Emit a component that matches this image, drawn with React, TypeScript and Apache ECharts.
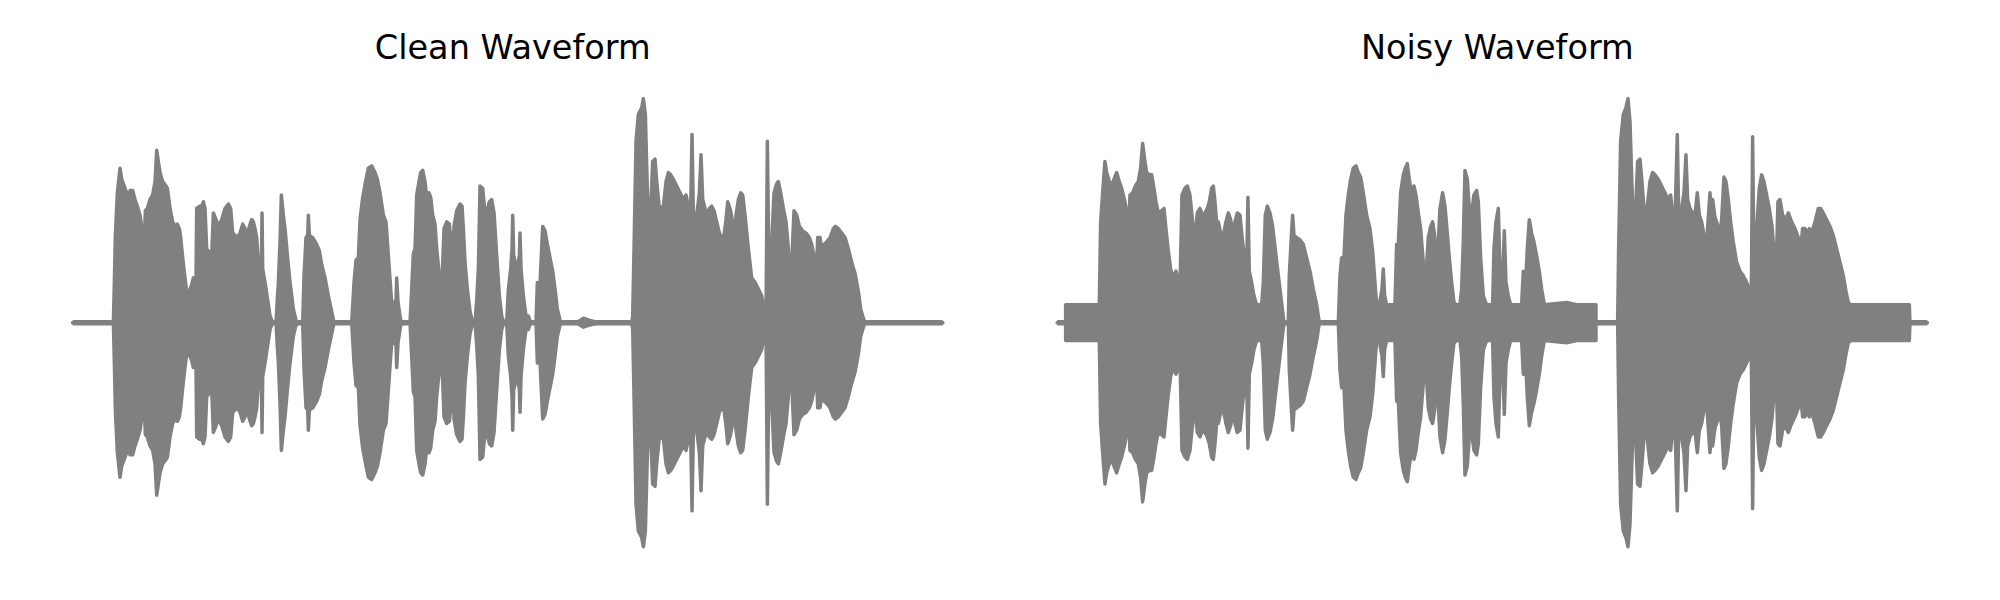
import React, { useEffect, useRef } from "react";
import * as echarts from "echarts";

// Time axis in milliseconds (clip length 2610 ms), amplitude normalised to the peak (±1).
const titles = ["Clean Waveform", "Noisy Waveform"];

const cleanTimeMs = [
  0, 122, 125, 128, 134, 142, 147, 157, 162, 167, 172, 180, 187, 194, 202, 210, 214, 218, 224, 232,
  240, 247, 252, 257, 262, 270, 280, 284, 292, 300, 307, 314, 320, 324, 330, 336, 342, 350, 357, 362,
  366, 369, 372, 380, 387, 392, 397, 402, 417, 422, 430, 437, 447, 457, 467, 474, 480, 487, 494, 502,
  510, 517, 524, 530, 537, 542, 547, 552, 557, 562, 566, 568, 570, 577, 584, 592, 600, 610, 614, 617,
  622, 626, 627, 632, 637, 644, 652, 662, 670, 677, 690, 694, 700, 705, 707, 710, 720, 732, 740, 747,
  757, 767, 777, 784, 837, 844, 850, 857, 862, 870, 880, 887, 897, 907, 914, 922, 932, 940, 947, 954,
  960, 964, 970, 972, 976, 984, 992, 1012, 1017, 1022, 1027, 1032, 1040, 1044, 1050, 1057, 1062, 1069, 1074, 1080,
  1087, 1092, 1100, 1107, 1114, 1122, 1130, 1134, 1138, 1144, 1152, 1162, 1168, 1172, 1177, 1184, 1192, 1200, 1207, 1212,
  1217, 1222, 1230, 1237, 1242, 1250, 1257, 1264, 1272, 1280, 1287, 1294, 1302, 1307, 1314, 1318, 1320, 1323, 1332, 1337,
  1340, 1342, 1345, 1352, 1360, 1367, 1374, 1390, 1394, 1398, 1404, 1410, 1417, 1424, 1432, 1440, 1447, 1454, 1462, 1467,
  1512, 1532, 1552, 1577, 1677, 1680, 1684, 1690, 1697, 1707, 1712, 1718, 1722, 1727, 1734, 1740, 1747, 1752, 1760, 1772,
  1780, 1787, 1794, 1802, 1812, 1822, 1832, 1840, 1847, 1854, 1858, 1862, 1872, 1880, 1885, 1890, 1897, 1904, 1910, 1917,
  1924, 1932, 1940, 1947, 1954, 1960, 1965, 1972, 1980, 1984, 1990, 1997, 2004, 2010, 2017, 2027, 2037, 2047, 2057, 2067,
  2074, 2080, 2084, 2088, 2097, 2104, 2112, 2117, 2124, 2132, 2140, 2147, 2152, 2158, 2164, 2172, 2180, 2190, 2200, 2210,
  2217, 2225, 2232, 2235, 2242, 2247, 2254, 2262, 2272, 2282, 2288, 2297, 2307, 2317, 2327, 2337, 2347, 2352, 2357, 2364,
  2370, 2377, 2610,
];
const cleanAmplitude = [
  0, 0, 0.18, 0.39, 0.58, 0.69, 0.64, 0.6, 0.58, 0.55, 0.59, 0.59, 0.55, 0.52, 0.48, 0.4, 0.33, 0.5, 0.51, 0.55,
  0.57, 0.63, 0.77, 0.72, 0.67, 0.63, 0.61, 0.6, 0.51, 0.45, 0.43, 0.44, 0.42, 0.38, 0.29, 0.21, 0.14, 0.14, 0.17, 0.2,
  0.12, 0.05, 0.51, 0.52, 0.52, 0.54, 0.51, 0.33, 0.3, 0.49, 0.46, 0.43, 0.46, 0.51, 0.53, 0.51, 0.4, 0.39, 0.38, 0.4,
  0.44, 0.42, 0.39, 0.43, 0.46, 0.45, 0.42, 0.38, 0.27, 0.24, 0.24, 0.49, 0.24, 0.18, 0.11, 0.03, 0, 0, 0.11, 0.18,
  0.36, 0.57, 0.57, 0.48, 0.42, 0.3, 0.18, 0.06, 0.01, 0, 0, 0.21, 0.38, 0.39, 0.48, 0.39, 0.38, 0.35, 0.32, 0.26,
  0.2, 0.12, 0.05, 0, 0, 0.18, 0.28, 0.29, 0.46, 0.56, 0.64, 0.69, 0.7, 0.67, 0.64, 0.58, 0.48, 0.45, 0.3, 0.15,
  0.03, 0.09, 0.1, 0.2, 0.09, 0.01, 0, 0, 0.15, 0.31, 0.33, 0.57, 0.64, 0.67, 0.68, 0.63, 0.56, 0.58, 0.56, 0.48,
  0.44, 0.33, 0.21, 0.15, 0.42, 0.45, 0.44, 0.38, 0.15, 0.43, 0.5, 0.53, 0.52, 0.42, 0.27, 0.15, 0.05, 0, 0, 0.1,
  0.24, 0.61, 0.6, 0.49, 0.49, 0.54, 0.55, 0.49, 0.3, 0.12, 0.03, 0, 0, 0.15, 0.24, 0.33, 0.48, 0.3, 0.24, 0.27,
  0.3, 0.4, 0.24, 0.12, 0.03, 0.03, 0, 0, 0.18, 0.03, 0.24, 0.43, 0.41, 0.35, 0.29, 0.23, 0.15, 0.06, 0.01, 0,
  0, 0.02, 0.01, 0, 0, 0.03, 0.33, 0.81, 0.93, 0.96, 1.0, 0.93, 0.7, 0.43, 0.51, 0.72, 0.73, 0.63, 0.51, 0.52,
  0.63, 0.67, 0.66, 0.64, 0.61, 0.58, 0.55, 0.57, 0.52, 0.51, 0.84, 0.49, 0.48, 0.58, 0.75, 0.55, 0.51, 0.49, 0.51, 0.52,
  0.5, 0.45, 0.4, 0.38, 0.39, 0.46, 0.54, 0.51, 0.45, 0.3, 0.48, 0.55, 0.58, 0.57, 0.48, 0.33, 0.2, 0.18, 0.15, 0.12,
  0.06, 0.03, 0.81, 0.3, 0.36, 0.58, 0.62, 0.63, 0.58, 0.51, 0.45, 0.33, 0.15, 0.3, 0.5, 0.48, 0.43, 0.41, 0.4, 0.38,
  0.35, 0.29, 0.26, 0.38, 0.38, 0.33, 0.35, 0.36, 0.38, 0.42, 0.43, 0.42, 0.4, 0.38, 0.33, 0.27, 0.22, 0.18, 0.14, 0.06,
  0.03, 0, 0,
];

const noisyTimeMs = [
  0, 25, 25, 126, 130, 136, 143, 148, 156, 163, 170, 178, 186, 193, 203, 210, 214, 218, 226, 234,
  243, 250, 256, 262, 268, 276, 283, 290, 296, 303, 313, 320, 326, 333, 340, 348, 356, 362, 368, 374,
  383, 390, 398, 406, 413, 420, 428, 436, 443, 450, 456, 463, 468, 473, 478, 483, 490, 498, 506, 513,
  520, 526, 533, 540, 548, 556, 563, 568, 572, 576, 583, 590, 598, 613, 618, 624, 630, 638, 646, 656,
  668, 676, 680, 693, 696, 702, 706, 710, 718, 728, 738, 748, 758, 768, 778, 786, 843, 848, 853, 860,
  866, 873, 880, 888, 896, 903, 910, 918, 928, 938, 946, 953, 960, 966, 974, 978, 982, 988, 1013, 1018,
  1023, 1030, 1038, 1044, 1050, 1056, 1063, 1070, 1076, 1083, 1090, 1098, 1106, 1113, 1120, 1126, 1132, 1138, 1143, 1148,
  1156, 1163, 1170, 1176, 1183, 1190, 1198, 1208, 1213, 1218, 1223, 1230, 1236, 1243, 1250, 1258, 1263, 1270, 1278, 1288,
  1306, 1310, 1316, 1323, 1328, 1336, 1341, 1346, 1353, 1360, 1393, 1398, 1403, 1410, 1416, 1423, 1430, 1438, 1446, 1453,
  1461, 1528, 1558, 1616, 1616, 1681, 1684, 1690, 1698, 1706, 1712, 1718, 1723, 1728, 1735, 1741, 1748, 1754, 1760, 1770,
  1778, 1786, 1793, 1803, 1813, 1823, 1833, 1840, 1846, 1854, 1860, 1864, 1873, 1880, 1886, 1891, 1898, 1906, 1913, 1920,
  1926, 1933, 1940, 1948, 1958, 1963, 1966, 1973, 1980, 1986, 1993, 2000, 2006, 2013, 2020, 2028, 2038, 2048, 2058, 2068,
  2076, 2082, 2086, 2090, 2098, 2106, 2113, 2120, 2128, 2136, 2144, 2151, 2156, 2162, 2168, 2176, 2184, 2193, 2203, 2213,
  2223, 2230, 2236, 2243, 2250, 2256, 2263, 2273, 2283, 2290, 2298, 2308, 2318, 2328, 2338, 2348, 2358, 2366, 2373, 2380,
  2556, 2558, 2610,
];
const noisyAmplitude = [
  0, 0, 0.08, 0.08, 0.45, 0.58, 0.72, 0.67, 0.63, 0.61, 0.64, 0.67, 0.63, 0.6, 0.54, 0.48, 0.4, 0.57, 0.58, 0.61,
  0.63, 0.69, 0.8, 0.73, 0.67, 0.66, 0.66, 0.6, 0.54, 0.49, 0.5, 0.51, 0.42, 0.32, 0.24, 0.2, 0.23, 0.2, 0.15, 0.57,
  0.6, 0.61, 0.57, 0.45, 0.38, 0.49, 0.51, 0.48, 0.49, 0.51, 0.54, 0.6, 0.61, 0.54, 0.45, 0.45, 0.4, 0.39, 0.45, 0.49,
  0.46, 0.4, 0.45, 0.49, 0.48, 0.36, 0.27, 0.24, 0.56, 0.23, 0.18, 0.12, 0.08, 0.08, 0.18, 0.48, 0.52, 0.49, 0.43, 0.3,
  0.15, 0.05, 0, 0, 0.21, 0.38, 0.48, 0.39, 0.38, 0.37, 0.35, 0.29, 0.23, 0.15, 0.08, 0, 0, 0.21, 0.29, 0.29,
  0.48, 0.57, 0.64, 0.69, 0.7, 0.67, 0.65, 0.58, 0.48, 0.42, 0.32, 0.18, 0.04, 0.08, 0.15, 0.24, 0.12, 0.08, 0.08, 0.35,
  0.35, 0.58, 0.66, 0.69, 0.71, 0.64, 0.57, 0.61, 0.57, 0.49, 0.42, 0.27, 0.21, 0.38, 0.43, 0.45, 0.39, 0.24, 0.36, 0.51,
  0.58, 0.52, 0.4, 0.29, 0.18, 0.09, 0.08, 0.08, 0.15, 0.36, 0.68, 0.64, 0.51, 0.49, 0.57, 0.59, 0.54, 0.29, 0.12, 0.08,
  0.08, 0.33, 0.45, 0.51, 0.24, 0.18, 0.41, 0.18, 0.12, 0.08, 0.08, 0.23, 0.12, 0.33, 0.46, 0.4, 0.36, 0.3, 0.23, 0.15,
  0.08, 0.09, 0.08, 0.08, 0, 0, 0.33, 0.81, 0.93, 0.96, 1.0, 0.9, 0.66, 0.43, 0.51, 0.72, 0.73, 0.63, 0.51, 0.52,
  0.63, 0.67, 0.66, 0.64, 0.61, 0.58, 0.55, 0.57, 0.48, 0.51, 0.84, 0.49, 0.51, 0.58, 0.75, 0.55, 0.51, 0.49, 0.48, 0.58,
  0.48, 0.45, 0.39, 0.36, 0.58, 0.49, 0.55, 0.47, 0.44, 0.37, 0.46, 0.65, 0.63, 0.55, 0.45, 0.36, 0.27, 0.23, 0.21, 0.18,
  0.15, 0.12, 0.83, 0.24, 0.42, 0.6, 0.66, 0.63, 0.57, 0.51, 0.43, 0.3, 0.21, 0.54, 0.55, 0.48, 0.46, 0.49, 0.45, 0.42,
  0.38, 0.33, 0.42, 0.42, 0.4, 0.42, 0.4, 0.45, 0.51, 0.51, 0.49, 0.46, 0.43, 0.39, 0.33, 0.27, 0.21, 0.14, 0.09, 0.08,
  0.08, 0, 0,
];

const DURATION_MS = 2610;
const GRAY = "#808080";

export default function App() {
  const ref = useRef<HTMLDivElement>(null);

  useEffect(() => {
    if (!ref.current) return;
    const chart = echarts.init(ref.current, null, { renderer: "svg" });

    const panels = [
      { t: cleanTimeMs, a: cleanAmplitude, left: 72.7, center: 507.7 },
      { t: noisyTimeMs, a: noisyAmplitude, left: 1057.3, center: 1492.3 },
    ];
    const gridTop = 76.3;
    const gridHeight = 492.8;

    const series: any[] = [];
    panels.forEach((p, i) => {
      const upper = p.t.map((tt, k) => [tt, p.a[k]]);
      const lower = p.t.map((tt, k) => [tt, -p.a[k]]);
      [
        { data: upper, origin: -0.012 },
        { data: lower, origin: 0.012 },
      ].forEach(({ data, origin }) => {
        series.push({
          type: "line",
          xAxisIndex: i,
          yAxisIndex: i,
          data,
          showSymbol: false,
          symbol: "none",
          smooth: false,
          clip: false,
          silent: true,
          lineStyle: { color: GRAY, width: 3.5, join: "round", cap: "round" },
          areaStyle: { color: GRAY, opacity: 1, origin },
        });
      });
    });

    chart.setOption({
      animation: false,
      backgroundColor: "#ffffff",
      title: panels.map((p, i) => ({
        text: titles[i],
        left: p.center,
        top: 25,
        textAlign: "center",
        textStyle: {
          fontFamily: "DejaVu Sans",
          fontSize: 33.5,
          fontWeight: "normal",
          color: "#000000",
        },
      })),
      grid: panels.map((p) => ({
        left: p.left,
        top: gridTop,
        width: 870,
        height: gridHeight,
        containLabel: false,
      })),
      xAxis: panels.map((_, i) => ({
        type: "value",
        gridIndex: i,
        min: 0,
        max: DURATION_MS,
        show: false,
      })),
      yAxis: panels.map((_, i) => ({
        type: "value",
        gridIndex: i,
        min: -1.1,
        max: 1.1,
        show: false,
      })),
      series,
    });

    return () => chart.dispose();
  }, []);

  return (
    <div
      ref={ref}
      style={{ position: "fixed", left: 0, top: 0, width: 2000, height: 600, background: "#fff" }}
    />
  );
}
